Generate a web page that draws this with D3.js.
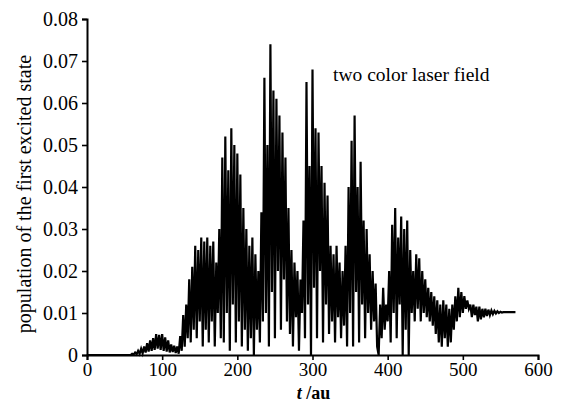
<!DOCTYPE html>
<html>
<head>
<meta charset="utf-8">
<script src="https://cdn.jsdelivr.net/npm/d3@7"></script>
<style>
  body { margin: 0; background: #fff; }
  svg { display: block; }
  svg text { font-family: "Liberation Serif", "Times New Roman", Times, "DejaVu Serif", serif; fill: #000; }
</style>
</head>
<body>
<div id="chart"></div>
<script>
// time grid (au) and population, one value every 2 au
const tStart = 0, tStep = 2;
const population = [
  // 0 - 58
  0,0,0,0,0,0,0,0,0,0, 0,0,0,0,0,0,0,0,0,0, 0,0,0,0,0,0,0,0,0,0,
  // 60 - 98
  0.0003,0.0001,0.0006,0.0002,0.001,0.0003,0.0015,0.0004,0.002,0.0006,
  0.0028,0.0008,0.0035,0.001,0.004,0.0012,0.005,0.0015,0.0048,0.0012,
  // 100 - 138
  0.005,0.001,0.0042,0.0008,0.0035,0.0006,0.0025,0.0007,0.0022,0.0005,
  0.002,0.0003,0.0045,0.001,0.0095,0.002,0.012,0.004,0.018,0.003,
  // 140 - 178
  0.021,0.006,0.026,0.004,0.025,0.008,0.028,0.002,0.027,0.006,
  0.028,0.003,0.026,0.008,0.027,0.002,0.022,0.01,0.03,0.004,
  // 180 - 218
  0.047,0.003,0.052,0.01,0.044,0.001,0.054,0.012,0.05,0.003,
  0.048,0.008,0.043,0.002,0.035,0.006,0.03,0.001,0.026,0.004,
  // 220 - 258
  0.028,0.0,0.024,0.006,0.02,0.003,0.034,0.008,0.066,0.01,
  0.05,0.002,0.074,0.015,0.063,0.004,0.061,0.02,0.057,0.006,
  // 260 - 298
  0.053,0.018,0.047,0.008,0.035,0.005,0.025,0.002,0.022,0.009,
  0.02,0.001,0.018,0.01,0.032,0.004,0.065,0.012,0.045,0.0,
  // 300 - 338
  0.068,0.016,0.054,0.004,0.053,0.02,0.045,0.003,0.041,0.012,
  0.038,0.005,0.026,0.008,0.024,0.003,0.026,0.009,0.022,0.004,
  // 340 - 378
  0.02,0.007,0.026,0.002,0.04,0.01,0.051,0.002,0.057,0.015,
  0.04,0.003,0.046,0.012,0.032,0.004,0.03,0.01,0.024,0.006,
  // 380 - 418
  0.02,0.008,0.017,0.002,0.0,0.012,0.004,0.016,0.006,0.012,
  0.008,0.02,0.003,0.031,0.01,0.035,0.004,0.028,0.012,0.033,
  // 420 - 458
  0.0,0.03,0.006,0.032,0.0,0.025,0.01,0.02,0.008,0.024,
  0.011,0.023,0.008,0.02,0.01,0.018,0.009,0.016,0.008,0.015,
  // 460 - 498
  0.007,0.014,0.005,0.013,0.003,0.012,0.002,0.013,0.004,0.012,
  0.002,0.011,0.003,0.012,0.006,0.014,0.008,0.016,0.009,0.015,
  // 500 - 538
  0.01,0.014,0.011,0.013,0.011,0.012,0.009,0.012,0.0095,0.0115,
  0.008,0.0115,0.0085,0.011,0.009,0.011,0.0093,0.0108,0.0095,0.0106,
  // 540 - 570
  0.0097,0.0105,0.0099,0.0104,0.01,0.0103,0.0101,0.0102,0.0102,0.0102,
  0.0102,0.0102,0.0102,0.0102,0.0102,0.0102
];
const xTicks = [0, 100, 200, 300, 400, 500, 600];
const yTicks = [0, 0.01, 0.02, 0.03, 0.04, 0.05, 0.06, 0.07, 0.08];

const width = 565, height = 407;
const serif = '"Liberation Serif", "Times New Roman", Times, "DejaVu Serif", serif';
const data = population.map((p, i) => ({ t: tStart + i * tStep, p }));

const svg = d3.select("#chart").append("svg")
  .attr("width", width)
  .attr("height", height)
  .attr("font-family", serif);

const x = d3.scaleLinear().domain([0, 600]).range([87, 538]);
const y = d3.scaleLinear().domain([0, 0.08]).range([355, 19]);

// curve
svg.append("path")
  .datum(data)
  .attr("fill", "none")
  .attr("stroke", "#000")
  .attr("stroke-width", 2.2)
  .attr("stroke-linejoin", "miter")
  .attr("d", d3.line().x(d => x(d.t)).y(d => y(d.p)));

// axes
const xAxis = svg.append("g")
  .attr("transform", `translate(0,${y(0)})`)
  .call(d3.axisBottom(x).tickValues(xTicks).tickSize(5).tickPadding(3).tickFormat(d3.format("d")));

const yAxis = svg.append("g")
  .attr("transform", `translate(${x(0)},0)`)
  .call(d3.axisLeft(y).tickValues(yTicks).tickSize(5).tickPadding(4)
    .tickFormat(d => d === 0 ? "0" : d3.format(".2f")(d)));

xAxis.attr("font-size", 19);
yAxis.attr("font-size", 20);
[xAxis, yAxis].forEach(g => {
  g.attr("font-family", serif);
  g.select(".domain").attr("stroke-width", 2).attr("stroke", "#000");
  g.selectAll(".tick line").attr("stroke-width", 1.6).attr("stroke", "#000");
  g.selectAll(".tick text").attr("fill", "#000");
});

// labels
svg.append("text")
  .attr("transform", `translate(31,${194}) rotate(-90)`)
  .attr("text-anchor", "middle")
  .attr("font-size", 20)
  .text("population of the first excited state");

const xl = svg.append("text")
  .attr("x", x(300) + 1)
  .attr("y", 399)
  .attr("text-anchor", "middle")
  .attr("font-size", 18)
  .attr("font-weight", "bold");
xl.append("tspan").attr("font-style", "italic").text("t");
xl.append("tspan").text(" /au");

svg.append("text")
  .attr("x", 333)
  .attr("y", 81)
  .attr("font-size", 19.5)
  .text("two color laser field");
</script>
</body>
</html>
